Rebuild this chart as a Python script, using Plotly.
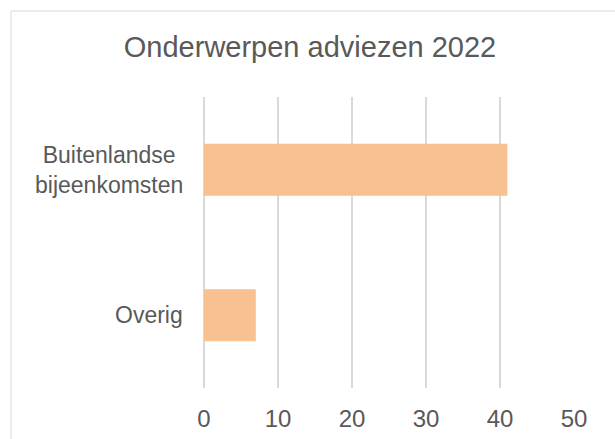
import plotly.graph_objects as go

categories = ["Overig", "Buitenlandse<br>bijeenkomsten"]
values = [7, 41]
x_ticks = [0, 10, 20, 30, 40, 50]
title_text = "Onderwerpen adviezen 2022"

W, H = 615, 439
L, R, T, B = 204, 41, 97, 51
font_family = "Liberation Sans, Arial, sans-serif"
text_color = "#595959"
grid_color = "#D9D9D9"

fig = go.Figure(
    go.Bar(
        x=values,
        y=categories,
        orientation="h",
        width=0.357,
        marker=dict(color="#F8C191", line=dict(width=0)),
    )
)

pw, ph = W - L - R, H - T - B
bx, by = (11 - L) / pw, (H - B - 11) / ph   # border corner in paper units

# chart border: only the top and left edges fall inside the frame
fig.add_shape(type="line", xref="paper", yref="paper",
              x0=bx, x1=(W - L) / pw, y0=by, y1=by,
              line=dict(color=grid_color, width=1), layer="below")
fig.add_shape(type="line", xref="paper", yref="paper",
              x0=bx, x1=bx, y0=by, y1=-B / ph,
              line=dict(color=grid_color, width=1), layer="below")

# category labels, centre-aligned like the original
for cat in categories:
    fig.add_annotation(
        x=(185 - L) / pw, xref="paper", xanchor="right",
        y=cat, yref="y", yanchor="middle",
        text=cat, showarrow=False, align="center",
        font=dict(size=23, color=text_color, family=font_family),
    )

fig.update_layout(
    width=W, height=H,
    margin=dict(l=L, r=R, t=T, b=B, autoexpand=False),
    paper_bgcolor="white", plot_bgcolor="white",
    font=dict(family=font_family, color=text_color),
    showlegend=False,
    title=dict(
        text=title_text, x=(310 / W), xanchor="center",
        y=1 - 47 / H, yanchor="middle", automargin=False,
        font=dict(size=29, color=text_color, family=font_family),
    ),
    xaxis=dict(
        range=[0, 50], tickvals=x_ticks, showgrid=True, gridcolor=grid_color,
        gridwidth=1.5, zeroline=True, zerolinecolor=grid_color, zerolinewidth=1.5,
        showline=False, ticks="", tickfont=dict(size=24, color=text_color),
        ticklabelstandoff=14, fixedrange=True, automargin=False,
    ),
    yaxis=dict(
        range=[-0.5, 1.5], showgrid=False, zeroline=False, showline=False,
        showticklabels=False, ticks="", fixedrange=True, automargin=False,
    ),
)

fig.write_html(
    "out.html",
    config={"displayModeBar": False},
    post_script="document.body.style.margin='0';document.body.style.padding='0';document.documentElement.style.overflow='hidden';",
)
